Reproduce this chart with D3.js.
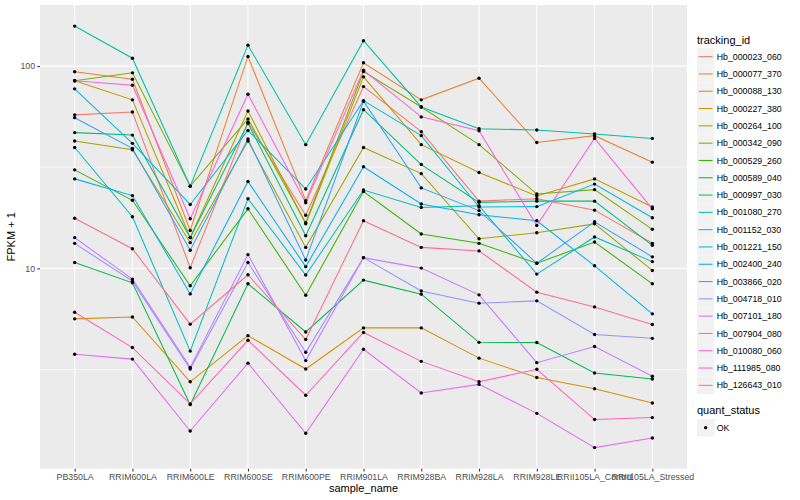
<!DOCTYPE html>
<html><head><meta charset="utf-8">
<script src="https://cdn.jsdelivr.net/npm/d3@7"></script>
<style>body{margin:0;background:#fff}svg{display:block}text{font-family:"Liberation Sans",Arial,Helvetica,sans-serif}</style>
</head><body><svg id="c" width="800" height="500"></svg>
<script>
// ---- data (FPKM + 1) ----
const samples = ["PB350LA","RRIM600LA","RRIM600LE","RRIM600SE","RRIM600PE","RRIM901LA","RRIM928BA","RRIM928LA","RRIM928LE","RRII105LA_Control","RRII105LA_Stressed"];
const trackingIds = ["Hb_000023_060","Hb_000077_370","Hb_000088_130","Hb_000227_380","Hb_000264_100","Hb_000342_090","Hb_000529_260","Hb_000589_040","Hb_000997_030","Hb_001080_270","Hb_001152_030","Hb_001221_150","Hb_002400_240","Hb_003866_020","Hb_004718_010","Hb_007101_180","Hb_007904_080","Hb_010080_060","Hb_111985_080","Hb_126643_010"];
const hb_000023_060 = [57.4, 59.3, 10.07, 52.7, 18.3, 79.2, 47.4, 21.5, 22.1, 19.4, 13.3];
const hb_000077_370 = [93.7, 86.1, 15.4, 111.6, 21.6, 103.8, 68.1, 87.1, 41.9, 45.3, 33.5];
const hb_000088_130 = [5.63, 5.75, 2.75, 4.65, 3.18, 5.08, 5.08, 3.60, 2.89, 2.54, 2.16];
const hb_000227_380 = [84.6, 68.1, 14.2, 60.0, 16.6, 88.5, 40.9, 29.8, 22.8, 27.7, 20.1];
const hb_000264_100 = [42.6, 38.6, 13.4, 42.6, 12.7, 39.6, 29.4, 14.0, 15.0, 16.6, 9.77];
const hb_000342_090 = [84.6, 92.6, 25.5, 54.8, 16.8, 94.0, 62.8, 40.9, 23.3, 24.5, 15.6];
const hb_000529_260 = [30.7, 21.7, 8.20, 19.7, 7.37, 24.0, 14.8, 13.3, 10.6, 13.5, 8.39];
const hb_000589_040 = [10.7, 8.48, 2.12, 8.39, 4.85, 8.75, 7.46, 4.31, 4.30, 3.04, 2.84];
const hb_000997_030 = [46.9, 45.6, 14.2, 52.1, 14.5, 60.9, 32.6, 21.2, 21.5, 21.5, 13.0];
const hb_001080_270 = [157.7, 109.4, 25.5, 126.9, 40.9, 133.5, 62.8, 49.0, 48.3, 46.2, 43.9];
const hb_001152_030 = [39.6, 18.0, 3.90, 22.1, 9.27, 24.4, 20.0, 20.4, 9.37, 14.3, 10.8];
const hb_001221_150 = [77.2, 41.5, 20.7, 48.1, 24.7, 67.5, 45.3, 20.1, 20.2, 26.1, 17.8];
const hb_002400_240 = [27.7, 22.9, 7.48, 26.9, 10.2, 31.8, 20.8, 18.4, 17.2, 10.3, 5.96];
const hb_003866_020 = [55.6, 39.2, 12.3, 43.6, 11.0, 67.0, 25.0, 19.3, 10.6, 17.0, 11.4];
const hb_004718_010 = [13.3, 8.65, 3.18, 10.7, 3.85, 11.3, 7.74, 6.73, 6.91, 4.71, 4.51];
const hb_007101_180 = [14.2, 8.85, 3.24, 11.7, 3.50, 11.3, 10.03, 7.40, 3.42, 4.11, 2.93];
const hb_007904_080 = [3.76, 3.56, 1.57, 3.40, 1.53, 3.98, 2.42, 2.67, 1.92, 1.30, 1.45];
const hb_010080_060 = [84.6, 80.4, 17.6, 72.6, 21.1, 95.4, 56.1, 47.9, 16.3, 43.9, 19.7];
const hb_111985_080 = [6.07, 4.06, 2.14, 4.41, 2.36, 4.82, 3.47, 2.75, 3.17, 1.79, 1.83];
const hb_126643_010 = [17.7, 12.5, 5.30, 9.30, 4.45, 17.2, 12.7, 12.2, 7.63, 6.45, 5.28];
const seriesValues = [hb_000023_060, hb_000077_370, hb_000088_130, hb_000227_380, hb_000264_100, hb_000342_090, hb_000529_260, hb_000589_040, hb_000997_030, hb_001080_270, hb_001152_030, hb_001221_150, hb_002400_240, hb_003866_020, hb_004718_010, hb_007101_180, hb_007904_080, hb_010080_060, hb_111985_080, hb_126643_010];
const yMajorTicks = [10, 100];
const yMinorTicks = [Math.sqrt(10), Math.sqrt(1000), Math.sqrt(100000)];
const quantStatus = ["OK"];

// ---- style ----
const palette = ["#F8766D","#EA8331","#D89000","#C09B00","#A3A500","#7CAE00","#39B600","#00BB4E","#00BF7D","#00C1A3","#00BFC4","#00BAE0","#00B0F6","#35A2FF","#9590FF","#C77CFF","#E76BF3","#FA62DB","#FF62BC","#FF6C91"];
const P = {l: 40, r: 687, t: 5, b: 468.7};

const svg = d3.select("#c");
const series = trackingIds.map((id, i) => ({id, color: palette[i], values: seriesValues[i].map((v, j) => ({s: samples[j], v}))}));

const all = seriesValues.flat();
const lmin = Math.log10(d3.min(all)), lmax = Math.log10(d3.max(all));
const pad = (lmax - lmin) * 0.05;
const y = d3.scaleLog().domain([Math.pow(10, lmin - pad), Math.pow(10, lmax + pad)]).range([P.b, P.t]);
const x = d3.scalePoint().domain(samples).range([P.l, P.r]).padding(0.6);

// panel
svg.append("rect").attr("x", P.l).attr("y", P.t).attr("width", P.r - P.l).attr("height", P.b - P.t).attr("fill", "#EBEBEB");
const g = svg.append("g");
const [d0, d1] = y.domain();
yMinorTicks.filter(t => t >= d0 && t <= d1).forEach(t => {
  g.append("line").attr("x1", P.l).attr("x2", P.r).attr("y1", y(t)).attr("y2", y(t)).attr("stroke", "#fff").attr("stroke-width", 0.55);
});
yMajorTicks.forEach(t => {
  g.append("line").attr("x1", P.l).attr("x2", P.r).attr("y1", y(t)).attr("y2", y(t)).attr("stroke", "#fff").attr("stroke-width", 1.1);
});
samples.forEach(s => {
  g.append("line").attr("x1", x(s)).attr("x2", x(s)).attr("y1", P.t).attr("y2", P.b).attr("stroke", "#fff").attr("stroke-width", 1.1);
});

// lines
const line = d3.line().x(d => x(d.s)).y(d => y(d.v));
svg.append("g").selectAll("path").data(series).join("path")
  .attr("d", d => line(d.values)).attr("fill", "none").attr("stroke", d => d.color).attr("stroke-width", 1.05);
// points
svg.append("g").selectAll("circle").data(series.flatMap(d => d.values)).join("circle")
  .attr("cx", d => x(d.s)).attr("cy", d => y(d.v)).attr("r", 1.7).attr("fill", "#000");

// axes
const yAxis = d3.axisLeft(y).tickValues(yMajorTicks).tickFormat(d3.format("d")).tickSize(2.7).tickPadding(2.2);
const ya = svg.append("g").attr("transform", `translate(${P.l},0)`).call(yAxis);
const xAxis = d3.axisBottom(x).tickSize(2.7).tickPadding(2.2);
const xa = svg.append("g").attr("transform", `translate(0,${P.b})`).call(xAxis);
[ya, xa].forEach(a => {
  a.select(".domain").remove();
  a.selectAll(".tick line").attr("stroke", "#333333").attr("stroke-width", 1.05);
  a.selectAll(".tick text").attr("fill", "#4D4D4D").style("font-size", "8.8px").style("font-family", '"Liberation Sans",Arial,sans-serif');
});

// titles
svg.append("text").attr("x", (P.l + P.r) / 2).attr("y", 492).attr("text-anchor", "middle").style("font-size", "11px").attr("fill", "#000").text("sample_name");
svg.append("text").attr("transform", `translate(15,${(P.t + P.b) / 2}) rotate(-90)`).attr("text-anchor", "middle").style("font-size", "11px").attr("fill", "#000").text("FPKM + 1");

// legend: tracking_id
const lg = svg.append("g");
lg.append("text").attr("x", 697).attr("y", 43.5).style("font-size", "11px").text("tracking_id");
const kh = 17.3, k0 = 48;
series.forEach((d, i) => {
  const yy = k0 + i * kh;
  lg.append("rect").attr("x", 697).attr("y", yy).attr("width", kh).attr("height", kh).attr("fill", "#F2F2F2");
  lg.append("line").attr("x1", 698.7).attr("x2", 697 + kh - 1.7).attr("y1", yy + kh / 2).attr("y2", yy + kh / 2).attr("stroke", d.color).attr("stroke-width", 1.05);
  lg.append("text").attr("x", 716.7).attr("y", yy + kh / 2 + 3.1).style("font-size", "8.8px").attr("fill", "#000").text(d.id);
});
// legend: quant_status
lg.append("text").attr("x", 697).attr("y", 414).style("font-size", "11px").text("quant_status");
quantStatus.forEach((q, i) => {
  const yy = 419 + i * kh;
  lg.append("rect").attr("x", 697).attr("y", yy).attr("width", kh).attr("height", kh).attr("fill", "#F2F2F2");
  lg.append("circle").attr("cx", 697 + kh / 2).attr("cy", yy + kh / 2).attr("r", 1.7).attr("fill", "#000");
  lg.append("text").attr("x", 716.7).attr("y", yy + kh / 2 + 3.1).style("font-size", "8.8px").text(q);
});
</script></body></html>
